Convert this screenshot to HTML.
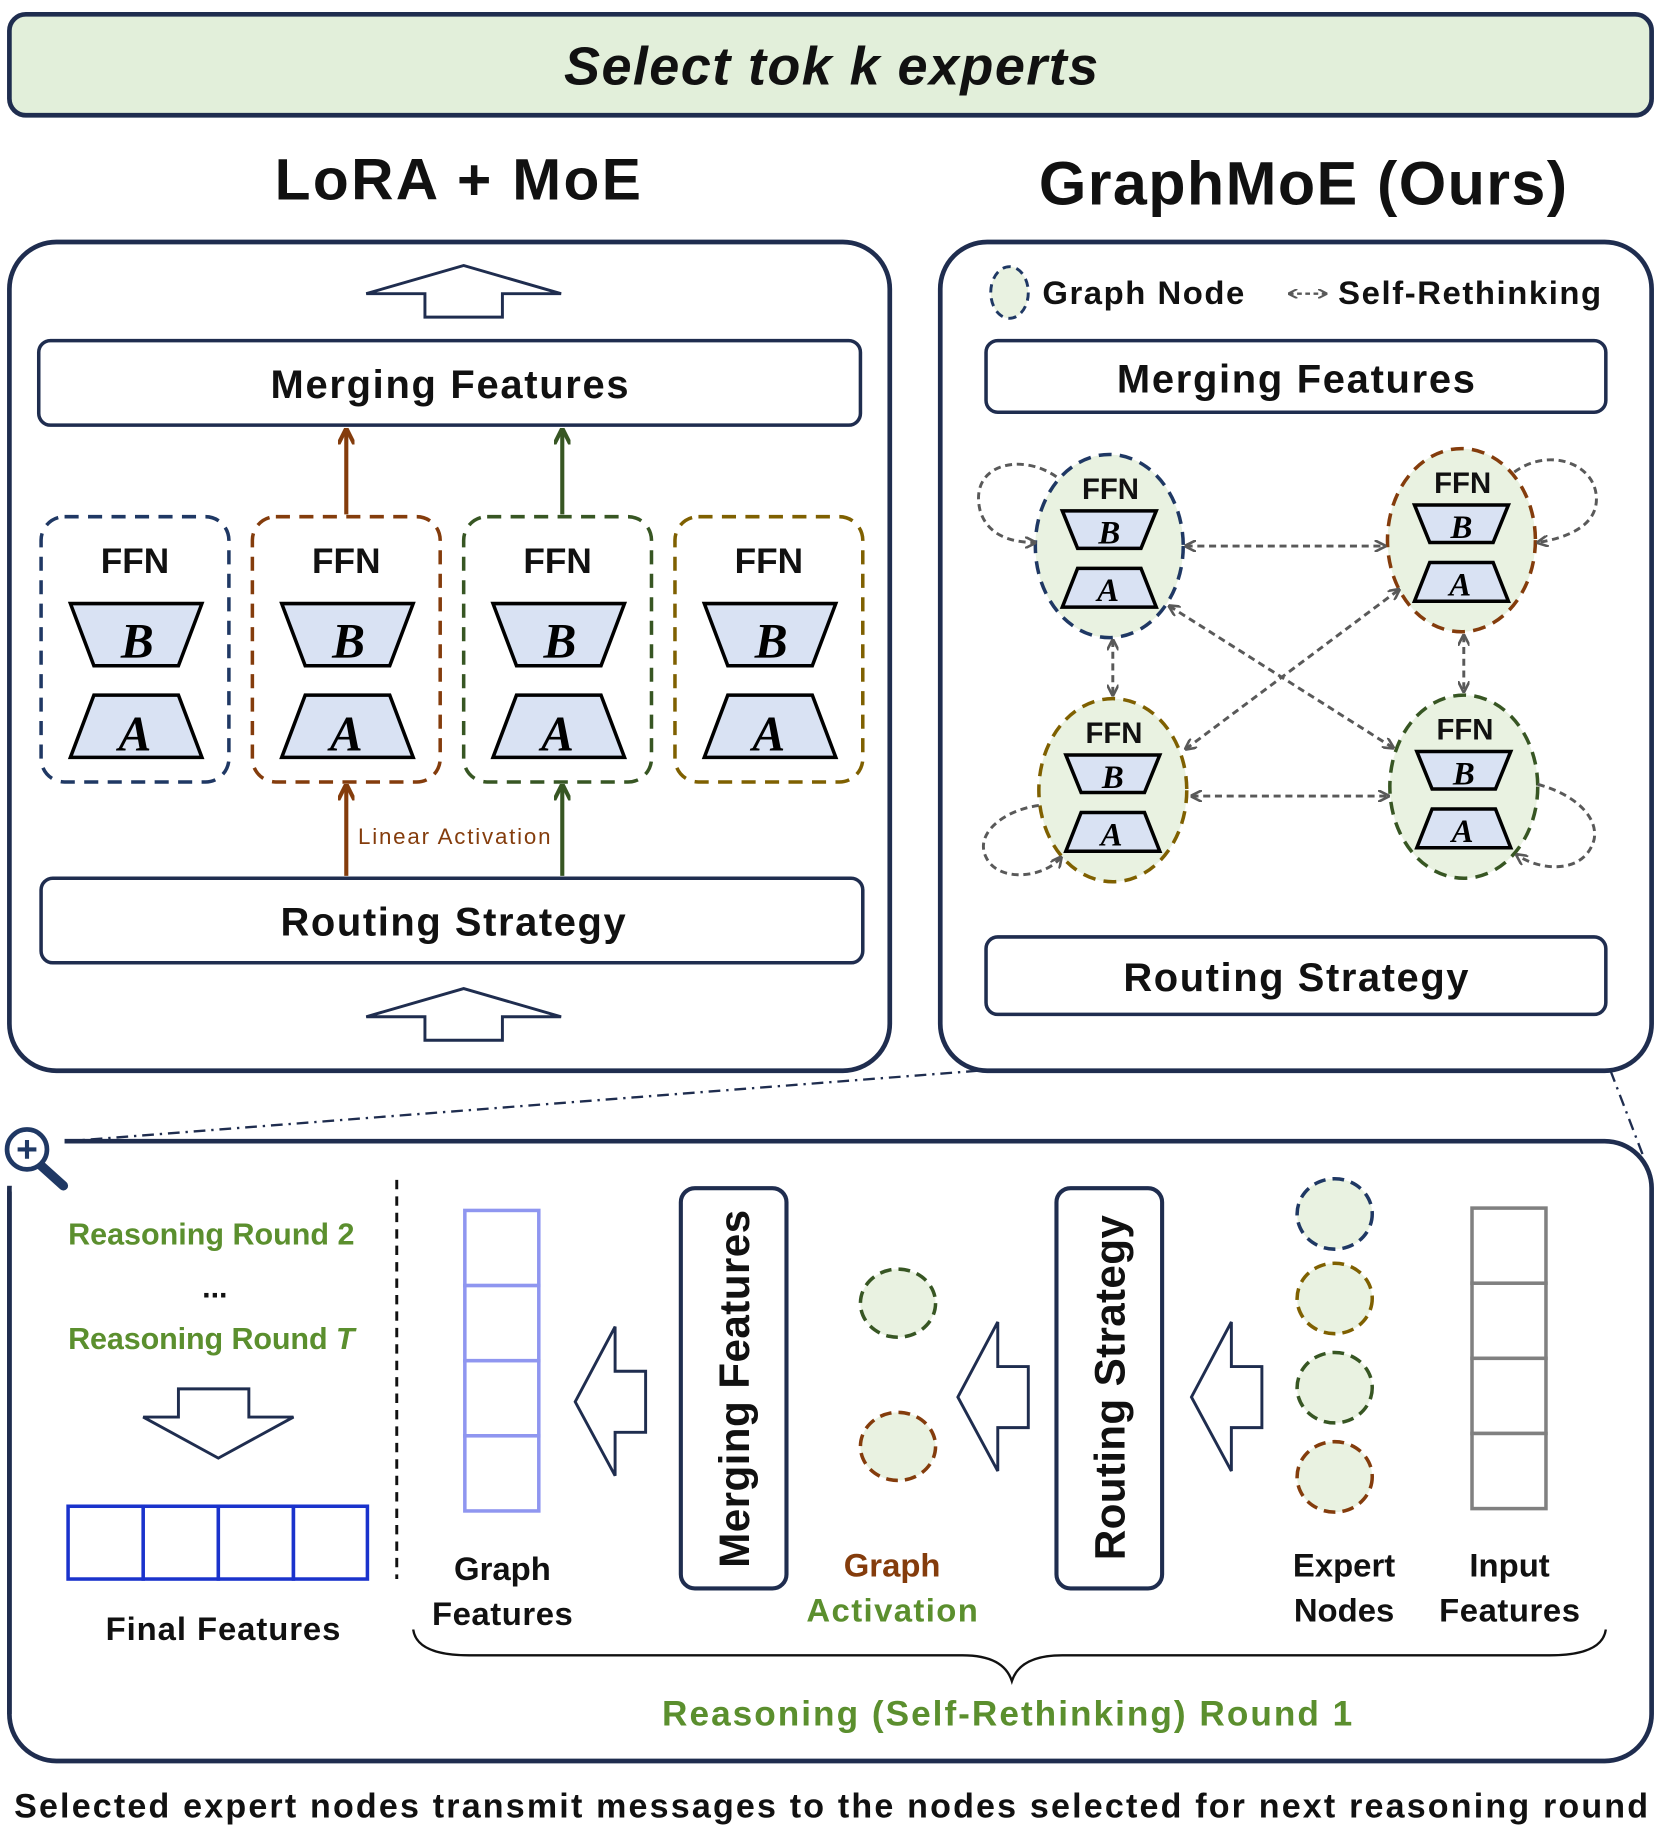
<!DOCTYPE html>
<html><head><meta charset="utf-8"><style>
html,body{margin:0;padding:0;background:#fff}
svg{display:block}
text{font-family:"Liberation Sans",sans-serif;font-weight:bold}
</style></head><body>
<svg width="1661" height="1841" viewBox="0 0 1415 1568" xmlns="http://www.w3.org/2000/svg">
<defs>
<marker id="ah" viewBox="0 0 10 10" refX="9" refY="5" markerWidth="4" markerHeight="4" orient="auto-start-reverse"><path d="M0,0 L10,5 L0,10" fill="none" stroke="#595959" stroke-width="2.2"/></marker>
<marker id="ab" viewBox="0 0 10 10" refX="9" refY="5" markerWidth="4" markerHeight="4" orient="auto"><path d="M0,0 L10,5 L0,10" fill="none" stroke="#843c0c" stroke-width="2.5"/></marker>
<marker id="ag" viewBox="0 0 10 10" refX="9" refY="5" markerWidth="4" markerHeight="4" orient="auto"><path d="M0,0 L10,5 L0,10" fill="none" stroke="#375623" stroke-width="2.5"/></marker>
</defs>
<!-- banner -->
<rect x="8" y="12" width="1399" height="86" rx="14" fill="#e2efda" stroke="#1f2d4f" stroke-width="4"/>
<text x="708" y="72" font-size="46" font-style="italic" text-anchor="middle" textLength="455" fill="#111">Select tok k experts</text>
<text x="390" y="170" font-size="50" text-anchor="middle" textLength="312" fill="#111">LoRA + MoE</text>
<text x="1110" y="174" font-size="52" text-anchor="middle" textLength="450" fill="#111">GraphMoE (Ours)</text>

<!-- left panel -->
<rect x="8" y="206" width="750" height="706" rx="40" fill="none" stroke="#1f2d4f" stroke-width="4"/>
<polygon points="312,250 395,226 478,250 428,250 428,270 362,270 362,250" fill="#fff" stroke="#1f2d4f" stroke-width="2.5"/>
<polygon points="312,866 395,842 478,866 428,866 428,886 362,886 362,866" fill="#fff" stroke="#1f2d4f" stroke-width="2.5"/>
<rect x="33" y="290" width="700" height="72" rx="10" fill="#fff" stroke="#1f2d4f" stroke-width="3"/>
<text x="383" y="339" font-size="34" text-anchor="middle" textLength="305" fill="#111">Merging Features</text>
<rect x="35" y="748" width="700" height="72" rx="10" fill="#fff" stroke="#1f2d4f" stroke-width="3"/>
<text x="386" y="797" font-size="34" text-anchor="middle" textLength="294" fill="#111">Routing Strategy</text>

<g stroke-width="3" fill="none" stroke-dasharray="12 8">
<rect x="35" y="440" width="160" height="226" rx="20" stroke="#1f3864"/>
<rect x="215" y="440" width="160" height="226" rx="20" stroke="#843c0c"/>
<rect x="395" y="440" width="160" height="226" rx="20" stroke="#375623"/>
<rect x="575" y="440" width="160" height="226" rx="20" stroke="#7f6000"/>
</g>
<g id="ffn">
<text x="115" y="488" font-size="30" text-anchor="middle" fill="#111">FFN</text>
<polygon points="60,514 172,514 152,567 80,567" fill="#d9e2f3" stroke="#000" stroke-width="3"/>
<text x="117" y="560" font-size="42" font-style="italic" font-family="Liberation Serif" text-anchor="middle" fill="#000" style="font-family:'Liberation Serif',serif">B</text>
<polygon points="80,592 152,592 172,645 60,645" fill="#d9e2f3" stroke="#000" stroke-width="3"/>
<text x="115" y="639" font-size="42" font-style="italic" text-anchor="middle" fill="#000" style="font-family:'Liberation Serif',serif">A</text>
</g>
<use href="#ffn" x="180"/><use href="#ffn" x="360"/><use href="#ffn" x="540"/>

<line x1="295" y1="438" x2="295" y2="366" stroke="#843c0c" stroke-width="3.5" marker-end="url(#ab)"/>
<line x1="479" y1="438" x2="479" y2="366" stroke="#375623" stroke-width="3.5" marker-end="url(#ag)"/>
<line x1="295" y1="746" x2="295" y2="669" stroke="#843c0c" stroke-width="3.5" marker-end="url(#ab)"/>
<line x1="479" y1="746" x2="479" y2="669" stroke="#375623" stroke-width="3.5" marker-end="url(#ag)"/>
<text x="305" y="719" font-size="19" fill="#843c0c" font-weight="normal" textLength="164" style="font-weight:normal">Linear Activation</text>

<!-- right panel -->
<rect x="801" y="206" width="606" height="706" rx="40" fill="none" stroke="#1f2d4f" stroke-width="4"/>
<ellipse cx="860" cy="249" rx="16" ry="22" fill="#e9f2e1" stroke="#1f3864" stroke-width="2.5" stroke-dasharray="7 5"/>
<text x="888" y="259" font-size="28" fill="#111" textLength="172">Graph Node</text>
<line x1="1098" y1="250" x2="1130" y2="250" stroke="#595959" stroke-width="2" stroke-dasharray="4 3" marker-start="url(#ah)" marker-end="url(#ah)"/>
<text x="1140" y="259" font-size="28" fill="#111" textLength="224">Self-Rethinking</text>
<rect x="840" y="290" width="528" height="61" rx="10" fill="#fff" stroke="#1f2d4f" stroke-width="3"/>
<text x="1104" y="334" font-size="34" text-anchor="middle" textLength="305" fill="#111">Merging Features</text>
<rect x="840" y="798" width="528" height="66" rx="10" fill="#fff" stroke="#1f2d4f" stroke-width="3"/>
<text x="1104" y="844" font-size="34" text-anchor="middle" textLength="294" fill="#111">Routing Strategy</text>

<g id="gn">
<text x="946" y="425" font-size="25" text-anchor="middle" fill="#111">FFN</text>
<polygon points="905,435 985,435 972,467 918,467" fill="#d9e2f3" stroke="#000" stroke-width="3"/>
<text x="945" y="463" font-size="28" font-style="italic" text-anchor="middle" style="font-family:'Liberation Serif',serif">B</text>
<polygon points="918,484 972,484 985,517 905,517" fill="#d9e2f3" stroke="#000" stroke-width="3"/>
<text x="944" y="512" font-size="28" font-style="italic" text-anchor="middle" style="font-family:'Liberation Serif',serif">A</text>
</g>
<g fill="#e9f2e1" fill-opacity="0" stroke-width="3" stroke-dasharray="11 7">
</g>
<ellipse cx="945" cy="465" rx="63" ry="78" fill="#e9f2e1" stroke="#1f3864" stroke-width="3" stroke-dasharray="11 7"/>
<ellipse cx="1245" cy="460" rx="63" ry="78" fill="#e9f2e1" stroke="#843c0c" stroke-width="3" stroke-dasharray="11 7"/>
<ellipse cx="948" cy="673" rx="63" ry="78" fill="#e9f2e1" stroke="#7f6000" stroke-width="3" stroke-dasharray="11 7"/>
<ellipse cx="1247" cy="670" rx="63" ry="78" fill="#e9f2e1" stroke="#375623" stroke-width="3" stroke-dasharray="11 7"/>
<use href="#gn"/><use href="#gn" x="300" y="-5"/><use href="#gn" x="3" y="208"/><use href="#gn" x="302" y="205"/>

<g stroke="#595959" stroke-width="2.5" fill="none" stroke-dasharray="6 4">
<line x1="1010" y1="465" x2="1180" y2="465" marker-start="url(#ah)" marker-end="url(#ah)"/>
<line x1="1015" y1="678" x2="1183" y2="678" marker-start="url(#ah)" marker-end="url(#ah)"/>
<line x1="948" y1="545" x2="948" y2="592" marker-start="url(#ah)" marker-end="url(#ah)"/>
<line x1="1247" y1="541" x2="1247" y2="589" marker-start="url(#ah)" marker-end="url(#ah)"/>
<line x1="996" y1="516" x2="1187" y2="637" marker-start="url(#ah)" marker-end="url(#ah)"/>
<line x1="1010" y1="638" x2="1192" y2="502" marker-start="url(#ah)" marker-end="url(#ah)"/>
<path d="M900,406 C870,385 825,395 835,435 C842,458 865,462 882,462" marker-end="url(#ah)"/>
<path d="M1290,402 C1320,380 1360,395 1360,425 C1360,448 1335,458 1310,462" marker-end="url(#ah)"/>
<path d="M885,686 C855,690 830,710 840,730 C850,752 890,748 904,730" marker-end="url(#ah)"/>
<path d="M1310,668 C1340,676 1362,695 1358,715 C1350,745 1312,742 1292,728" marker-end="url(#ah)"/>
</g>

<!-- dash-dot connectors -->
<g stroke="#1f2d4f" stroke-width="2" stroke-dasharray="10 5 2 5" fill="none">
<line x1="833" y1="912" x2="58" y2="972"/>
<line x1="1372" y1="912" x2="1400" y2="985"/>
</g>

<!-- bottom panel -->
<rect x="8" y="972" width="1399" height="528" rx="40" fill="none" stroke="#1f2d4f" stroke-width="4"/>
<rect x="0" y="955" width="55" height="55" fill="#fff"/>
<line x1="34" y1="992" x2="54" y2="1010" stroke="#1f3864" stroke-width="8" stroke-linecap="round"/>
<circle cx="23" cy="979" r="17" fill="#fff" stroke="#1f3864" stroke-width="4"/>
<path d="M23,971 V987 M15,979 H31" stroke="#1f3864" stroke-width="3.5"/>
<line x1="8" y1="1015" x2="8" y2="1460" stroke="#1f2d4f" stroke-width="4"/>

<text x="180" y="1060" font-size="26" fill="#5b8f2e" text-anchor="middle" textLength="244">Reasoning Round 2</text>
<text x="183" y="1105" font-size="26" fill="#111" text-anchor="middle">...</text>
<text x="180" y="1149" font-size="26" fill="#5b8f2e" text-anchor="middle" textLength="244">Reasoning Round <tspan font-style="italic">T</tspan></text>
<polygon points="122,1207 152,1207 152,1183 212,1183 212,1207 250,1207 186,1242" fill="#fff" stroke="#1f2d4f" stroke-width="2.5"/>
<g fill="#fff" stroke="#1a33cc" stroke-width="3">
<rect x="58" y="1283" width="64" height="62"/><rect x="122" y="1283" width="64" height="62"/><rect x="186" y="1283" width="64" height="62"/><rect x="250" y="1283" width="63" height="62"/>
</g>
<text x="190" y="1397" font-size="28" fill="#111" text-anchor="middle" textLength="200">Final Features</text>
<line x1="338" y1="1005" x2="338" y2="1345" stroke="#111" stroke-width="2.5" stroke-dasharray="8 6"/>

<g fill="#fff" stroke="#8f96f0" stroke-width="3">
<rect x="396" y="1031" width="63" height="64"/><rect x="396" y="1095" width="63" height="64"/><rect x="396" y="1159" width="63" height="64"/><rect x="396" y="1223" width="63" height="64"/>
</g>
<text x="428" y="1346" font-size="28" fill="#111" text-anchor="middle">Graph</text>
<text x="428" y="1384" font-size="28" fill="#111" text-anchor="middle" textLength="120">Features</text>

<g fill="#fff" stroke="#1f2d4f" stroke-width="2.5">
<polygon points="490,1194 524,1130 524,1168 550,1168 550,1220 524,1220 524,1257"/>
<polygon points="816,1190 850,1126 850,1164 876,1164 876,1216 850,1216 850,1253"/>
<polygon points="1015,1190 1049,1126 1049,1164 1075,1164 1075,1216 1049,1216 1049,1253"/>
</g>
<rect x="580" y="1012" width="90" height="341" rx="12" fill="#fff" stroke="#1f2d4f" stroke-width="3.5"/>
<text transform="translate(638,1183) rotate(-90)" font-size="36" fill="#111" text-anchor="middle" textLength="305">Merging Features</text>
<rect x="900" y="1012" width="90" height="341" rx="12" fill="#fff" stroke="#1f2d4f" stroke-width="3.5"/>
<text transform="translate(958,1182) rotate(-90)" font-size="36" fill="#111" text-anchor="middle" textLength="294">Routing Strategy</text>

<g fill="#e9f2e1" stroke-width="3" stroke-dasharray="10 6">
<ellipse cx="765" cy="1110" rx="32" ry="29" stroke="#375623"/>
<ellipse cx="765" cy="1232" rx="32" ry="29" stroke="#843c0c"/>
<ellipse cx="1137" cy="1034" rx="32" ry="30" stroke="#1f3864"/>
<ellipse cx="1137" cy="1106" rx="32" ry="30" stroke="#7f6000"/>
<ellipse cx="1137" cy="1182" rx="32" ry="30" stroke="#375623"/>
<ellipse cx="1137" cy="1258" rx="32" ry="30" stroke="#843c0c"/>
</g>
<text x="760" y="1343" font-size="28" fill="#843c0c" text-anchor="middle">Graph</text>
<text x="760" y="1381" font-size="28" fill="#5b8f2e" text-anchor="middle" textLength="146">Activation</text>
<text x="1145" y="1343" font-size="28" fill="#111" text-anchor="middle">Expert</text>
<text x="1145" y="1381" font-size="28" fill="#111" text-anchor="middle">Nodes</text>

<g fill="#fff" stroke="#808080" stroke-width="3">
<rect x="1254" y="1029" width="63" height="64"/><rect x="1254" y="1093" width="63" height="64"/><rect x="1254" y="1157" width="63" height="64"/><rect x="1254" y="1221" width="63" height="64"/>
</g>
<text x="1286" y="1343" font-size="28" fill="#111" text-anchor="middle">Input</text>
<text x="1286" y="1381" font-size="28" fill="#111" text-anchor="middle" textLength="120">Features</text>

<path d="M352,1388 Q355,1410 400,1410 L820,1410 Q855,1410 862,1432 Q869,1410 905,1410 L1320,1410 Q1365,1410 1368,1388" fill="none" stroke="#111" stroke-width="2"/>
<text x="858" y="1470" font-size="30" fill="#5b8f2e" text-anchor="middle" textLength="588">Reasoning (Self-Rethinking) Round 1</text>

<text x="708" y="1548" font-size="29" fill="#111" text-anchor="middle" textLength="1392">Selected expert nodes transmit messages to the nodes selected for next reasoning round</text>
</svg>
</body></html>
